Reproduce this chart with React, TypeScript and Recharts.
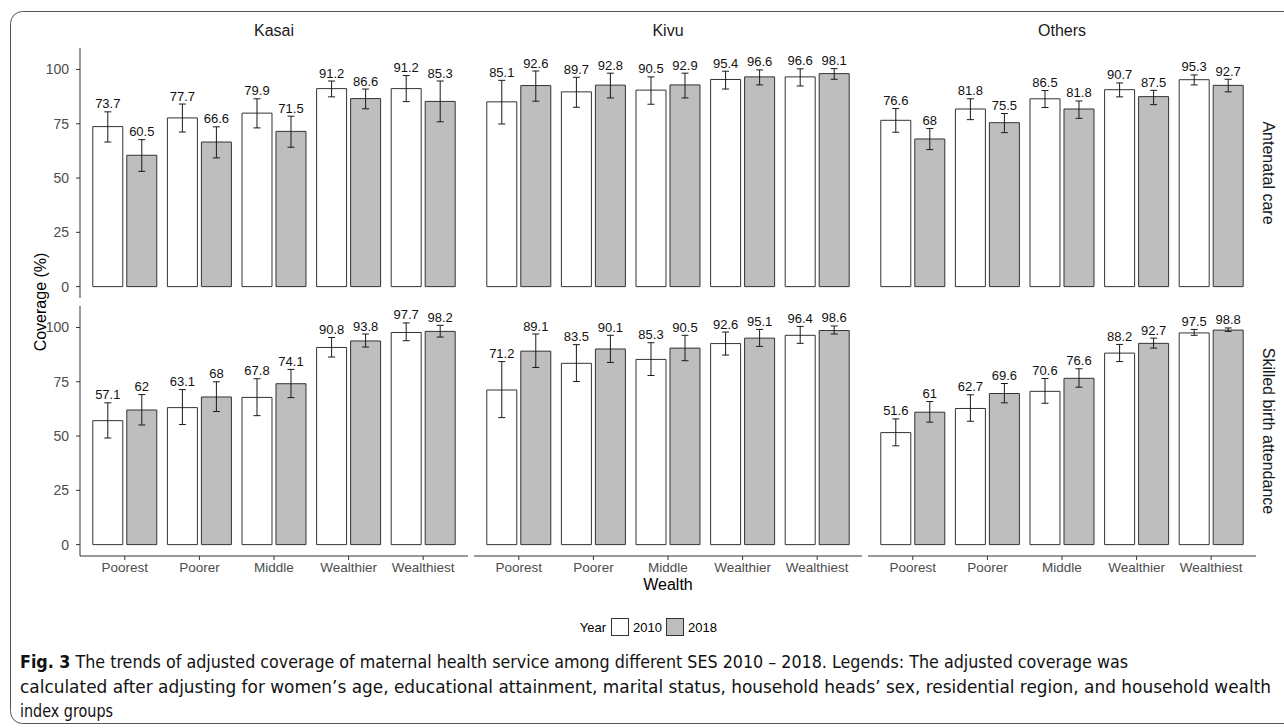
import { BarChart, Bar, XAxis, YAxis, ErrorBar, LabelList } from "recharts";

// wealth quintiles on the x axis
const wealth = ["Poorest", "Poorer", "Middle", "Wealthier", "Wealthiest"];
const regions = ["Kasai", "Kivu", "Others"];
const services = ["Antenatal care", "Skilled birth attendance"];
const yTicks = [0, 25, 50, 75, 100];

// Antenatal care
const ancKasai2010 = [73.7, 77.7, 79.9, 91.2, 91.2];
const ancKasai2010Ci = [[66.6, 80.5], [71.2, 84.1], [73.1, 86.5], [87.4, 94.7], [85.2, 97.2]];
const ancKasai2018 = [60.5, 66.6, 71.5, 86.6, 85.3];
const ancKasai2018Ci = [[53.1, 67.7], [59.3, 73.6], [64.2, 78.5], [81.9, 91.0], [75.9, 94.7]];

const ancKivu2010 = [85.1, 89.7, 90.5, 95.4, 96.6];
const ancKivu2010Ci = [[74.9, 95.0], [82.6, 96.4], [84.0, 96.6], [91.0, 99.2], [92.4, 100.3]];
const ancKivu2018 = [92.6, 92.8, 92.9, 96.6, 98.1];
const ancKivu2018Ci = [[85.4, 99.3], [86.9, 98.3], [86.9, 98.3], [92.9, 99.8], [95.5, 100.4]];

const ancOthers2010 = [76.6, 81.8, 86.5, 90.7, 95.3];
const ancOthers2010Ci = [[71.1, 82.0], [76.9, 86.5], [82.5, 90.3], [87.4, 93.8], [92.9, 97.5]];
const ancOthers2018 = [68, 75.5, 81.8, 87.5, 92.7];
const ancOthers2018Ci = [[63.1, 72.8], [70.9, 79.7], [77.5, 85.5], [83.8, 90.4], [89.7, 95.5]];

// Skilled birth attendance
const sbaKasai2010 = [57.1, 63.1, 67.8, 90.8, 97.7];
const sbaKasai2010Ci = [[49.1, 65.3], [55.3, 71.4], [59.4, 76.4], [86.4, 95.4], [93.9, 102.1]];
const sbaKasai2018 = [62, 68, 74.1, 93.8, 98.2];
const sbaKasai2018Ci = [[55.1, 69.1], [61.3, 75.0], [67.7, 80.7], [91.0, 97.0], [95.6, 101.0]];

const sbaKivu2010 = [71.2, 83.5, 85.3, 92.6, 96.4];
const sbaKivu2010Ci = [[58.5, 84.3], [75.1, 92.1], [77.9, 93.0], [87.3, 97.9], [92.7, 100.5]];
const sbaKivu2018 = [89.1, 90.1, 90.5, 95.1, 98.6];
const sbaKivu2018Ci = [[81.6, 97.0], [83.9, 96.4], [84.7, 96.4], [91.3, 99.1], [97.0, 100.7]];

const sbaOthers2010 = [51.6, 62.7, 70.6, 88.2, 97.5];
const sbaOthers2010Ci = [[45.5, 57.9], [56.8, 69.0], [65.1, 76.5], [84.3, 92.2], [96.4, 99.1]];
const sbaOthers2018 = [61, 69.6, 76.6, 92.7, 98.8];
const sbaOthers2018Ci = [[56.4, 65.9], [65.3, 74.2], [72.5, 81.0], [90.5, 95.1], [98.2, 99.8]];

// layout
const PLOT_LEFT = [80, 474, 868];
const PLOT_TOP = [48, 306];
const PW = 388;
const PH = 250;
const Y_DOMAIN: [number, number] = [-5.24, 109.9];
const FONT = "'Liberation Sans', Arial, Helvetica, sans-serif";

type Row = {
  wealth: string;
  y2010: number;
  y2018: number;
  e2010: number[];
  e2018: number[];
  hi2010: number;
  hi2018: number;
};

const buildRows = (v10: number[], ci10: number[][], v18: number[], ci18: number[][]): Row[] =>
  wealth.map((w, i) => ({
    wealth: w,
    y2010: v10[i],
    y2018: v18[i],
    e2010: [v10[i] - ci10[i][0], ci10[i][1] - v10[i]],
    e2018: [v18[i] - ci18[i][0], ci18[i][1] - v18[i]],
    hi2010: ci10[i][1],
    hi2018: ci18[i][1],
  }));

const panels = [
  [
    buildRows(ancKasai2010, ancKasai2010Ci, ancKasai2018, ancKasai2018Ci),
    buildRows(ancKivu2010, ancKivu2010Ci, ancKivu2018, ancKivu2018Ci),
    buildRows(ancOthers2010, ancOthers2010Ci, ancOthers2018, ancOthers2018Ci),
  ],
  [
    buildRows(sbaKasai2010, sbaKasai2010Ci, sbaKasai2018, sbaKasai2018Ci),
    buildRows(sbaKivu2010, sbaKivu2010Ci, sbaKivu2018, sbaKivu2018Ci),
    buildRows(sbaOthers2010, sbaOthers2010Ci, sbaOthers2018, sbaOthers2018Ci),
  ],
];

// value label sitting just above the upper end of the error bar
const makeLabel = (rows: Row[], year: "2010" | "2018") => (props: any) => {
  const { x, y, width, height, index } = props;
  const r = rows[index];
  if (!r) return null;
  const v = year === "2010" ? r.y2010 : r.y2018;
  const hi = year === "2010" ? r.hi2010 : r.hi2018;
  const k = Number(height) / v;
  const ty = Number(y) - (hi - v) * k - 3.5;
  return (
    <text x={Number(x) + Number(width) / 2} y={ty} textAnchor="middle" fontSize={13} fill="#111" fontFamily={FONT}>
      {String(v)}
    </text>
  );
};

function Panel({ rows, row, col }: { rows: Row[]; row: number; col: number }) {
  const yW = col === 0 ? 50 : 0;
  const xH = row === 1 ? 30 : 0;
  return (
    <div style={{ position: "absolute", left: PLOT_LEFT[col] - yW, top: PLOT_TOP[row] }}>
      <BarChart
        width={PW + yW}
        height={PH + xH}
        data={rows}
        margin={{ top: 0, right: 0, bottom: 0, left: 0 }}
        barCategoryGap="7.1%"
        barGap={4}
      >
        <XAxis
          dataKey="wealth"
          hide={row === 0}
          height={xH}
          padding={{ left: 7.5, right: 7.5 }}
          interval={0}
          tickSize={4}
          axisLine={{ stroke: "#333" }}
          tickLine={{ stroke: "#333" }}
          tick={{ fill: "#4D4D4D", fontSize: 13.5, fontFamily: FONT }}
        />
        <YAxis
          hide={col !== 0}
          width={yW}
          domain={Y_DOMAIN}
          ticks={yTicks}
          allowDataOverflow
          tickSize={4}
          tickMargin={7}
          axisLine={{ stroke: "#333" }}
          tickLine={{ stroke: "#333" }}
          tick={{ fill: "#4D4D4D", fontSize: 14, fontFamily: FONT }}
        />
        <Bar dataKey="y2010" fill="#FFFFFF" stroke="#333" strokeWidth={1} isAnimationActive={false}>
          <ErrorBar dataKey="e2010" width={3.5} stroke="#1a1a1a" strokeWidth={1} />
          <LabelList dataKey="y2010" content={makeLabel(rows, "2010")} />
        </Bar>
        <Bar dataKey="y2018" fill="#BEBEBE" stroke="#333" strokeWidth={1} isAnimationActive={false}>
          <ErrorBar dataKey="e2018" width={3.5} stroke="#1a1a1a" strokeWidth={1} />
          <LabelList dataKey="y2018" content={makeLabel(rows, "2018")} />
        </Bar>
      </BarChart>
    </div>
  );
}

export default function App() {
  return (
    <div style={{ position: "absolute", left: 0, top: 0, width: 1284, height: 728, background: "#fff", overflow: "hidden" }}>
      <svg width={1284} height={728} style={{ position: "absolute", left: 0, top: 0 }} fontFamily={FONT}>
        {/* figure frame */}
        <rect x={10.5} y={11.5} width={1300} height={712} rx={12} fill="none" stroke="#555" strokeWidth={1} />

        {regions.map((name, c) => (
          <text key={name} x={PLOT_LEFT[c] + PW / 2} y={36} textAnchor="middle" fontSize={16} fill="#1A1A1A">
            {name}
          </text>
        ))}
        {services.map((name, r) => (
          <text
            key={name}
            transform={`translate(${1263}, ${PLOT_TOP[r] + PH / 2}) rotate(90)`}
            textAnchor="middle"
            fontSize={16}
            fill="#1A1A1A"
          >
            {name}
          </text>
        ))}

        <text transform="translate(46, 302) rotate(-90)" textAnchor="middle" fontSize={16} fill="#000">
          Coverage (%)
        </text>
        <text x={PLOT_LEFT[1] + PW / 2} y={590} textAnchor="middle" fontSize={16} fill="#000">
          Wealth
        </text>

        {/* legend */}
        <text x={606} y={632} textAnchor="end" fontSize={13} fill="#000">Year</text>
        <rect x={611.5} y={618.5} width={17} height={17} fill="#FFFFFF" stroke="#333" />
        <text x={633} y={632} fontSize={13} fill="#000">2010</text>
        <rect x={666.5} y={618.5} width={17} height={17} fill="#BEBEBE" stroke="#333" />
        <text x={688} y={632} fontSize={13} fill="#000">2018</text>

        {/* caption */}
        <g fontFamily="'Liberation Sans Narrow', 'DejaVu Sans Condensed', 'Liberation Sans', sans-serif" fontSize={17} fill="#111">
          <text x={20} y={668} textLength={1108} lengthAdjust="spacingAndGlyphs">
            <tspan fontWeight="bold">Fig. 3</tspan>
            {"  The trends of adjusted coverage of maternal health service among different SES 2010 \u2013 2018. Legends: The adjusted coverage was"}
          </text>
          <text x={20} y={693} textLength={1251} lengthAdjust="spacingAndGlyphs">
            {"calculated after adjusting for women\u2019s age, educational attainment, marital status, household heads\u2019 sex, residential region, and household wealth"}
          </text>
          <text x={20} y={717} textLength={93} lengthAdjust="spacingAndGlyphs">
            index groups
          </text>
        </g>
      </svg>

      {panels.map((rowPanels, r) =>
        rowPanels.map((rows, c) => <Panel key={`${r}-${c}`} rows={rows} row={r} col={c} />)
      )}
    </div>
  );
}
